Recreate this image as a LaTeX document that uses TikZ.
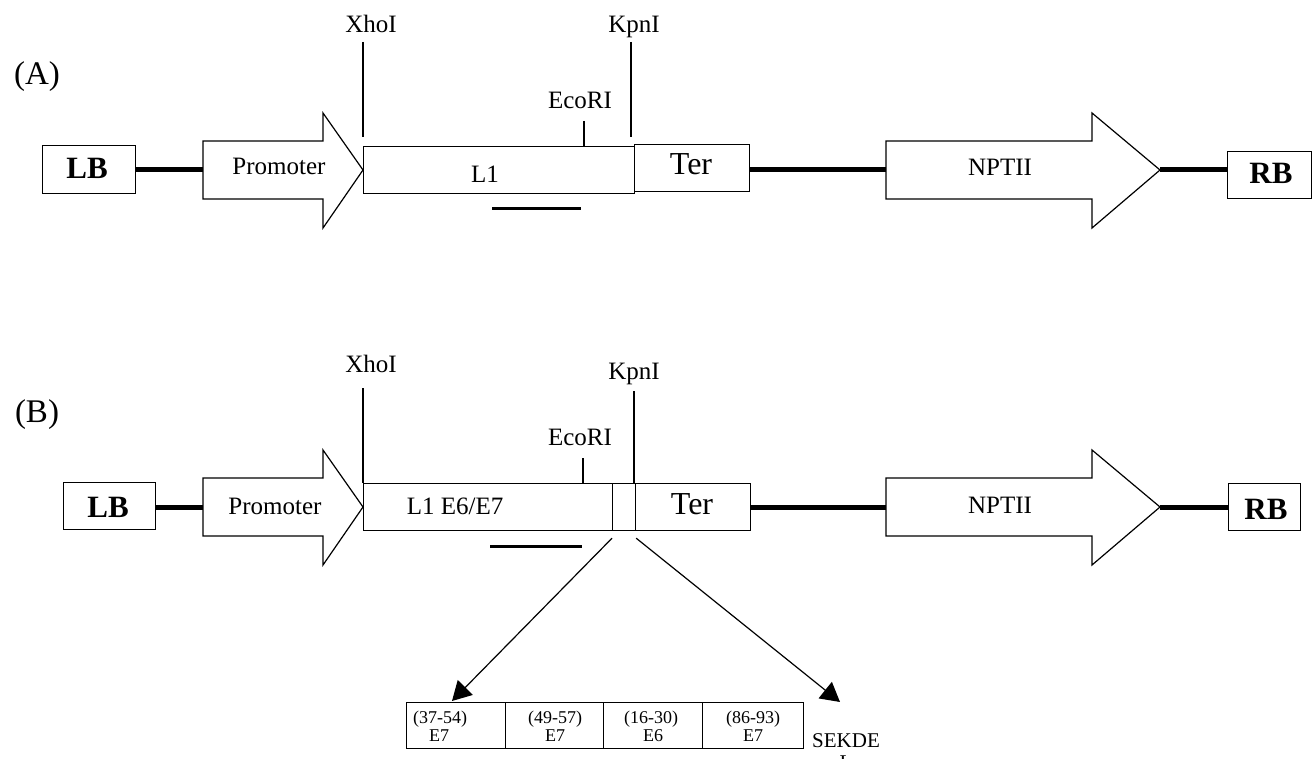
\documentclass[tikz,border=0pt]{standalone}
\usepackage{fontspec}
\setmainfont{Liberation Serif}
\usetikzlibrary{arrows.meta}
\tikzset{
  gene/.style={draw, line width=1.2pt, fill=white, line join=miter},
  gbox/.style={gene, inner sep=0pt, anchor=north west},
  link/.style={line width=5pt},
  bar/.style={line width=3pt},
  site/.style={line width=1.2pt},
  lab/.style={inner sep=0pt, anchor=base, font=\fontsize{25}{30}\selectfont},
  terlab/.style={lab, font=\fontsize{32}{38}\selectfont},
  bord/.style={lab, font=\fontsize{31}{37}\selectfont\bfseries},
  tag/.style={lab, font=\fontsize{33}{40}\selectfont},
  small/.style={lab, font=\fontsize{18}{22}\selectfont},
  sig/.style={lab, font=\fontsize{21}{25}\selectfont},
  split/.style={site, -{Triangle[length=19pt,width=21pt]}}
}
\begin{document}
\begin{tikzpicture}[x=1pt,y=-1pt]
\useasboundingbox[fill=white] (0,0) rectangle (1313,759);

% ================= construct (A) : axis at y = 170
\node[tag] (tagA) at (37,85) {(A)};

\coordinate (promA-tail) at (203,170);
\coordinate (promA-tip)  at (363,170);
\coordinate (nptA-tail)  at (886,170);
\coordinate (nptA-tip)   at (1160,170);

% left / right borders
\node[gbox, minimum width=93pt, minimum height=48pt] (lbA) at (42,145) {};
\node[bord] (lbAt) at (87,179) {LB};
\node[gbox, minimum width=84pt, minimum height=47pt] (rbA) at (1227,151) {};
\node[bord] (rbAt) at (1271,184) {RB};

% backbone links
\draw[link] (lbA.east |- promA-tail) -- (promA-tail);
\draw[link] (nptA-tip) -- (rbA.west |- nptA-tip);

% promoter arrow
\draw[gene] (promA-tail) -- (203,141) -- (323,141) -- (323,113) -- (promA-tip)
            -- (323,228) -- (323,199) -- (203,199) -- cycle;
\node[lab] (promAt) at (279,175) {Promoter};

% coding region and terminator
\node[gbox, minimum width=271pt, minimum height=47pt] (l1A) at (363,146) {};
\node[lab] (l1At) at (485,183) {L1};
\node[gbox, minimum width=115pt, minimum height=47pt] (terA) at (634,144) {};
\node[terlab] (terAt) at (691,175) {Ter};
\draw[link] (terA.east |- nptA-tail) -- (nptA-tail);
\draw[bar] (492,209) -- (581,209);

% restriction sites
\node[lab] (xhoA) at (371,33) {XhoI};
\draw[site] (363,42) -- (363,137);
\node[lab] (kpnA) at (634,33) {KpnI};
\draw[site] (631,42) -- (631,137);
\node[lab] (ecoA) at (580,109) {EcoRI};
\draw[site] (584,121) -- (584,146);

% selection marker
\draw[gene] (nptA-tail) -- (886,141) -- (1092,141) -- (1092,113) -- (nptA-tip)
            -- (1092,228) -- (1092,199) -- (886,199) -- cycle;
\node[lab] (nptAt) at (1000,176) {NPTII};

% ================= construct (B) : axis at y = 507
\node[tag] (tagB) at (37,422) {(B)};

\coordinate (promB-tail) at (203,507);
\coordinate (promB-tip)  at (363,507);
\coordinate (nptB-tail)  at (886,507);
\coordinate (nptB-tip)   at (1160,507);

\node[gbox, minimum width=92pt, minimum height=47pt] (lbB) at (63,482) {};
\node[bord] (lbBt) at (108,517) {LB};
\node[gbox, minimum width=72pt, minimum height=47pt] (rbB) at (1228,483) {};
\node[bord] (rbBt) at (1266,519) {RB};

\draw[link] (lbB.east |- promB-tail) -- (promB-tail);
\draw[link] (nptB-tip) -- (rbB.west |- nptB-tip);

\draw[gene] (promB-tail) -- (203,478) -- (323,478) -- (323,450) -- (promB-tip)
            -- (323,565) -- (323,536) -- (203,536) -- cycle;
\node[lab] (promBt) at (275,514) {Promoter};

\node[gbox, minimum width=249pt, minimum height=47pt] (l1B) at (363,483) {};
\node[lab] (l1Bt) at (455,514) {L1 E6/E7};
\node[gbox, minimum width=23pt, minimum height=47pt] (sbB) at (612,483) {};
\node[gbox, minimum width=115pt, minimum height=47pt] (terB) at (635,483) {};
\node[terlab] (terBt) at (692,514) {Ter};
\draw[link] (terB.east |- nptB-tail) -- (nptB-tail);
\draw[bar] (490,546) -- (582,546);

\node[lab] (xhoB) at (371,372) {XhoI};
\draw[site] (363,388) -- (l1B.north west);
\node[lab] (kpnB) at (634,379) {KpnI};
\draw[site] (634,391) -- (634,483);
\node[lab] (ecoB) at (580,445) {EcoRI};
\draw[site] (583,458) -- (583,483);

\draw[gene] (nptB-tail) -- (886,478) -- (1092,478) -- (1092,450) -- (nptB-tip)
            -- (1092,565) -- (1092,536) -- (886,536) -- cycle;
\node[lab] (nptBt) at (1000,513) {NPTII};

% ================= epitope cassette
\node[gbox, minimum width=99pt,  minimum height=46pt] (cell1) at (406,702) {};
\node[gbox, minimum width=98pt,  minimum height=46pt] (cell2) at (505,702) {};
\node[gbox, minimum width=99pt,  minimum height=46pt] (cell3) at (603,702) {};
\node[gbox, minimum width=101pt, minimum height=46pt] (cell4) at (702,702) {};

\node[small] (c1a) at (440,723) {(37-54)};
\node[small] (c2a) at (555,723) {(49-57)};
\node[small] (c3a) at (651,723) {(16-30)};
\node[small] (c4a) at (753,723) {(86-93)};
\begin{scope}
  \clip (406,702) rectangle (803,741.2);
  \node[small] (c1b) at (439,741) {E7};
  \node[small] (c2b) at (555,741) {E7};
  \node[small] (c3b) at (653,741) {E6};
  \node[small] (c4b) at (753,741) {E7};
\end{scope}

\node[sig] (sek)  at (846,747) {SEKDE};
\node[sig] (sekL) at (846,769) {L};

\coordinate (tipL) at (452,701);
\coordinate (tipR) at (840,702);
\draw[split] ([yshift=-7pt]sbB.south west) -- (tipL);
\draw[split] ([yshift=-7pt]sbB.south east) -- (tipR);
\end{tikzpicture}
\end{document}
